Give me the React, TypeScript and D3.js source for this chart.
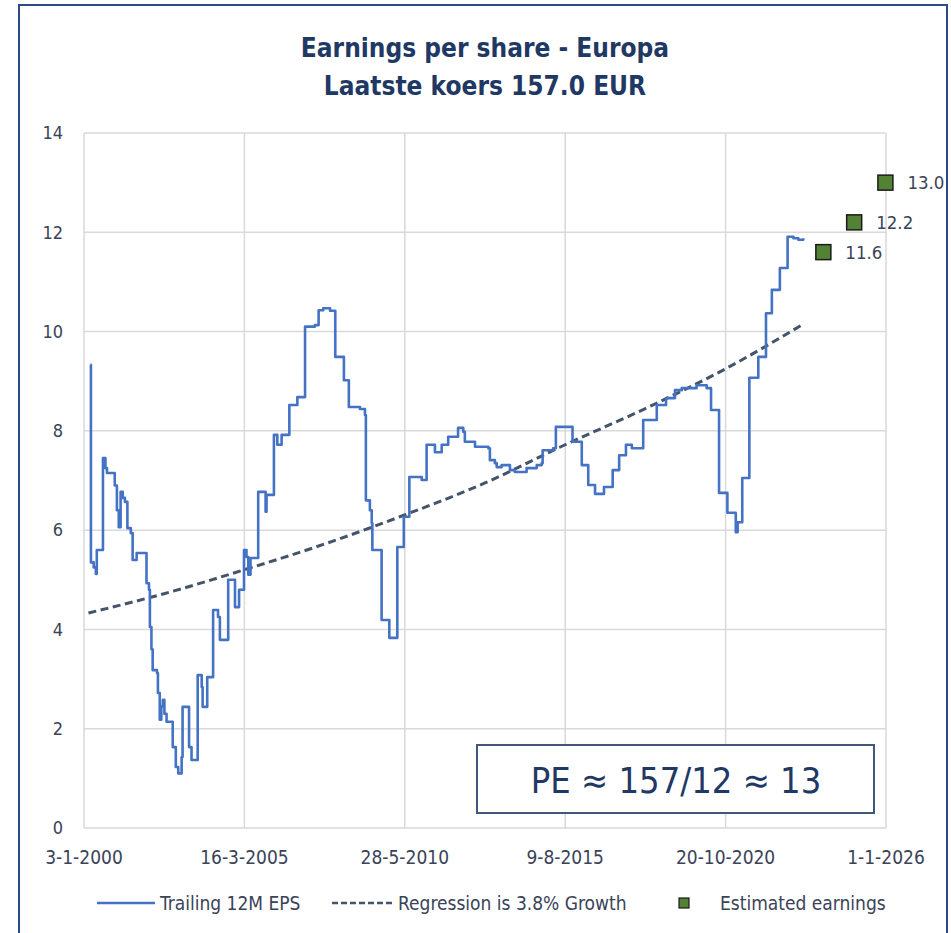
import React from "react";
import * as d3 from "d3";

// ---- DATA ----
const TITLE_1 = "Earnings per share - Europa";
const TITLE_2 = "Laatste koers 157.0 EUR";
const PE_TEXT = "PE ≈ 157/12 ≈ 13";

// Trailing 12M EPS, step points (decimal year, EPS)
const EPS_T = [
  2000.21, 2000.23, 2000.32, 2000.39, 2000.42, 2000.62, 2000.70, 2000.75, 2001.00, 2001.07,
  2001.13, 2001.19, 2001.26, 2001.33, 2001.41, 2001.52, 2001.58, 2001.71, 2002.03, 2002.11,
  2002.14, 2002.19, 2002.23, 2002.37, 2002.40, 2002.46, 2002.51, 2002.56, 2002.61, 2002.68,
  2002.88, 2002.98, 2003.06, 2003.17, 2003.20, 2003.41, 2003.49, 2003.69, 2003.82, 2003.85,
  2004.00, 2004.19, 2004.35, 2004.41, 2004.68, 2004.90, 2005.03, 2005.19, 2005.27, 2005.33,
  2005.40, 2005.65, 2005.89, 2005.92, 2006.16, 2006.27, 2006.41, 2006.66, 2006.92, 2007.17,
  2007.49, 2007.61, 2007.76, 2007.98, 2008.15, 2008.43, 2008.59, 2008.95, 2009.11, 2009.14,
  2009.27, 2009.33, 2009.35, 2009.65, 2009.90, 2010.16, 2010.37, 2010.55, 2010.95, 2011.11,
  2011.38, 2011.60, 2011.81, 2012.13, 2012.30, 2012.35, 2012.68, 2013.11, 2013.16, 2013.32,
  2013.38, 2013.54, 2013.81, 2013.97, 2014.35, 2014.68, 2014.84, 2014.87, 2015.21, 2015.30,
  2015.84, 2016.14, 2016.35, 2016.57, 2016.86, 2017.14, 2017.35, 2017.57, 2017.76, 2018.13,
  2018.57, 2018.87, 2019.16, 2019.38, 2019.86, 2020.19, 2020.33, 2020.59, 2020.86, 2021.13,
  2021.19, 2021.34, 2021.57, 2021.86, 2022.11, 2022.30, 2022.56, 2022.81, 2023.00, 2023.16,
  2023.32,
];
const EPS_V = [
  9.33, 5.35, 5.25, 5.12, 5.6, 7.45, 7.25, 7.15, 6.9, 6.4,
  6.06, 6.77, 6.65, 6.57, 6.04, 5.94, 5.4, 5.54, 4.93, 4.8,
  4.05, 3.6, 3.18, 3.12, 2.72, 2.18, 2.45, 2.58, 2.3, 2.14,
  1.63, 1.23, 1.1, 1.43, 2.44, 1.63, 1.37, 3.08, 2.84, 2.44,
  3.04, 4.39, 4.25, 3.79, 5.0, 4.45, 4.8, 5.6, 5.46, 5.1,
  5.44, 6.77, 6.37, 6.71, 7.92, 7.72, 7.92, 8.52, 8.68, 10.1,
  10.13, 10.43, 10.47, 10.42, 9.49, 9.02, 8.48, 8.44, 8.32, 6.6,
  6.4, 6.14, 5.6, 4.19, 3.83, 5.66, 6.27, 7.07, 7.01, 7.72,
  7.57, 7.72, 7.88, 8.06, 7.98, 7.78, 7.68, 7.65, 7.41, 7.35,
  7.27, 7.31, 7.21, 7.17, 7.25, 7.31, 7.35, 7.61, 7.65, 8.08,
  7.78, 7.31, 6.91, 6.73, 6.87, 7.21, 7.51, 7.72, 7.65, 8.22,
  8.52, 8.66, 8.82, 8.86, 8.92, 8.86, 8.42, 6.75, 6.35, 5.96,
  6.16, 7.05, 9.07, 9.49, 10.37, 10.84, 11.28, 11.91, 11.88, 11.85,
  11.88,
];

// Regression trendline (3.8% growth)
const REG_T = [2000.15, 2002.6, 2005.19, 2007.8, 2010.37, 2013.0, 2015.6, 2018.2, 2020.8, 2023.32];
const REG_V = [4.33, 4.72, 5.2, 5.72, 6.3, 6.95, 7.72, 8.45, 9.25, 10.15];

// Estimated earnings
const EST_T = [2023.97, 2024.97, 2025.98];
const EST_V = [11.6, 12.2, 13.0];
const EST_LABELS = ["11.6", "12.2", "13.0"];

const Y_TICKS = [0, 2, 4, 6, 8, 10, 12, 14];
const X_TICK_LABELS = ["3-1-2000", "16-3-2005", "28-5-2010", "9-8-2015", "20-10-2020", "1-1-2026"];

const LEGEND_LABELS = ["Trailing 12M EPS", "Regression is 3.8% Growth", "Estimated earnings"];

// ---- helpers ----
const parseDMY = (s: string) => {
  const [d, m, y] = s.split("-").map(Number);
  return new Date(Date.UTC(y, m - 1, d));
};
const decYear = (t: number) => {
  const y = Math.floor(t);
  return new Date(Date.UTC(y, 0, 1) + (t - y) * 365.25 * 86400000);
};

const W = 951;
const H = 933;
const FONT = "'Liberation Sans Narrow', 'DejaVu Sans Condensed', 'Open Sans', sans-serif";
const TEXT_COL = "#3a4358";
const NAVY = "#1f3864";
const BLUE = "#4472c4";
const DASH = "#44546a";
const GREEN = "#548235";

export default function App() {
  const x = d3
    .scaleUtc()
    .domain([parseDMY(X_TICK_LABELS[0]), parseDMY(X_TICK_LABELS[X_TICK_LABELS.length - 1])])
    .range([84, 886]);
  const y = d3.scaleLinear().domain([0, 14]).range([828, 133]);

  const eps = EPS_T.map((t, i) => ({ d: decYear(t), v: EPS_V[i] }));
  const reg = REG_T.map((t, i) => ({ d: decYear(t), v: REG_V[i] }));
  const est = EST_T.map((t, i) => ({ d: decYear(t), v: EST_V[i], l: EST_LABELS[i] }));

  const epsLine = d3
    .line<{ d: Date; v: number }>()
    .x((p) => x(p.d))
    .y((p) => y(p.v))
    .curve(d3.curveStepAfter);
  const regLine = d3
    .line<{ d: Date; v: number }>()
    .x((p) => x(p.d))
    .y((p) => y(p.v))
    .curve(d3.curveMonotoneX);

  return (
    <svg
      width={W}
      height={H}
      style={{ position: "absolute", left: 0, top: 0, background: "#fff" }}
      fontFamily={FONT}
    >
      <rect x={0} y={0} width={W} height={H} fill="#fff" />
      {/* outer frame */}
      <rect x={19} y={5} width={928} height={940} fill="none" stroke="#2e4a86" strokeWidth={2} />

      {/* title */}
      <text x={485} y={57} textAnchor="middle" fontSize={26} fontWeight="bold" fill={NAVY}>
        {TITLE_1}
      </text>
      <text x={485} y={95} textAnchor="middle" fontSize={26} fontWeight="bold" fill={NAVY}>
        {TITLE_2}
      </text>

      {/* gridlines */}
      {Y_TICKS.map((t) => (
        <line key={"gy" + t} x1={84} x2={886} y1={y(t)} y2={y(t)} stroke="#d9d9d9" strokeWidth={1.5} />
      ))}
      {X_TICK_LABELS.map((s) => (
        <line key={"gx" + s} x1={x(parseDMY(s))} x2={x(parseDMY(s))} y1={133} y2={828} stroke="#d9d9d9" strokeWidth={1.5} />
      ))}

      {/* y labels */}
      {Y_TICKS.map((t) => (
        <text key={"ly" + t} x={63} y={y(t)} dy="0.35em" textAnchor="end" fontSize={18} fill={TEXT_COL}>
          {t}
        </text>
      ))}
      {/* x labels */}
      {X_TICK_LABELS.map((s) => (
        <text key={"lx" + s} x={x(parseDMY(s))} y={857} dy="0.35em" textAnchor="middle" fontSize={19} fill={TEXT_COL}>
          {s}
        </text>
      ))}

      {/* regression */}
      <path d={regLine(reg) || ""} fill="none" stroke={DASH} strokeWidth={3} strokeDasharray="8,4.5" />
      {/* EPS */}
      <path d={epsLine(eps) || ""} fill="none" stroke={BLUE} strokeWidth={2.6} strokeLinejoin="round" />

      {/* estimated earnings */}
      {est.map((p) => (
        <g key={"e" + p.l}>
          <rect x={x(p.d) - 7.5} y={y(p.v) - 7.5} width={15} height={15} fill={GREEN} stroke="#1a1a1a" strokeWidth={1.5} />
          <text x={x(p.d) + 22} y={y(p.v)} dy="0.35em" fontSize={18.5} fill={TEXT_COL}>
            {p.l}
          </text>
        </g>
      ))}

      {/* PE box */}
      <rect x={477} y={745} width={397} height={68} fill="#fff" stroke="#41587a" strokeWidth={2} />
      <text x={676} y={780} dy="0.35em" textAnchor="middle" fontSize={36} fill={NAVY}>
        {PE_TEXT}
      </text>

      {/* legend */}
      <line x1={97} x2={155} y1={903} y2={903} stroke={BLUE} strokeWidth={2.6} />
      <text x={160} y={903} dy="0.35em" fontSize={19} fill={TEXT_COL}>
        {LEGEND_LABELS[0]}
      </text>
      <line x1={332} x2={395} y1={903} y2={903} stroke={DASH} strokeWidth={2.6} strokeDasharray="6,3" />
      <text x={398} y={903} dy="0.35em" fontSize={19} fill={TEXT_COL}>
        {LEGEND_LABELS[1]}
      </text>
      <rect x={679} y={898} width={10} height={10} fill={GREEN} stroke="#1a1a1a" strokeWidth={1.2} />
      <text x={720} y={903} dy="0.35em" fontSize={19} fill={TEXT_COL}>
        {LEGEND_LABELS[2]}
      </text>
    </svg>
  );
}
